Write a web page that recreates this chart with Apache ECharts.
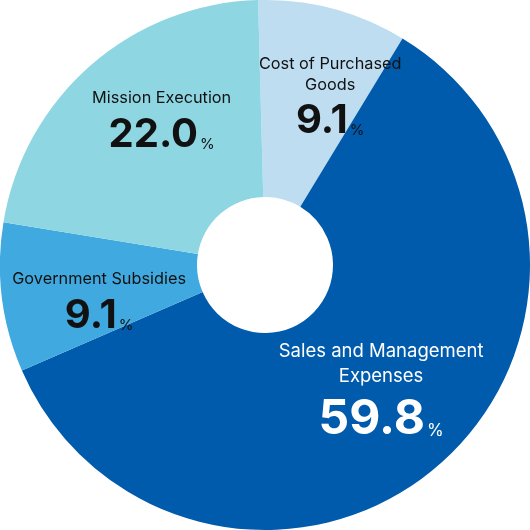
<!DOCTYPE html>
<html>
<head>
<meta charset="utf-8">
<script src="https://cdn.jsdelivr.net/npm/echarts@6/dist/echarts.min.js"></script>
<style>html,body{margin:0;padding:0;background:#fff}#c{width:530px;height:530px}</style>
</head>
<body>
<div id="c"></div>
<script>
const categories = ['Cost of Purchased\nGoods', 'Sales and Management\nExpenses', 'Government Subsidies', 'Mission Execution'];
const values = [9.1, 59.8, 9.1, 22.0];
const valueLabels = ['9.1', '59.8', '9.1', '22.0'];
const colors = ['#BEDDF1', '#005BAC', '#40A9E0', '#8ED6E2'];
// label block centres (fraction of chart size)
const labelCenters = [[0.623, 0.189], [0.719, 0.745], [0.187, 0.576], [0.305, 0.234]];

const chart = echarts.init(document.getElementById('c'), null, {renderer: 'canvas'});
const FONT = 'Inter, Roboto, sans-serif';

function richFor(dark) {
  const c = dark ? '#ffffff' : '#111111';
  return {
    n: {fontFamily: FONT, fontSize: dark ? 18.5 : 16.3, color: c, lineHeight: dark ? 24.5 : 21, align: 'center'},
    v: {fontFamily: FONT, fontSize: dark ? 48 : 40, fontWeight: 'bold', color: c, lineHeight: dark ? 62 : 52},
    p: {fontFamily: FONT, fontSize: dark ? 17 : 15, color: c, lineHeight: dark ? 62 : 52, verticalAlign: 'bottom', padding: [0, 0, dark ? 11 : 9, 2]}
  };
}

const data = categories.map((name, i) => {
  const dark = i === 1;
  const nameLines = name.split('\n').map(s => '{n|' + s + '}').join('\n');
  return {
    name: name,
    value: values[i],
    itemStyle: {color: colors[i]},
    label: {
      formatter: nameLines + '\n{v|' + valueLabels[i] + '}{p|%}',
      rich: richFor(dark)
    }
  };
});

chart.setOption({
  animation: false,
  backgroundColor: '#ffffff',
  series: [{
    type: 'pie',
    radius: [68, 265],
    center: ['50%', '50%'],
    startAngle: 91.5,
    clockwise: true,
    silent: true,
    label: {show: true, position: 'inside', align: 'center'},
    labelLine: {show: false},
    labelLayout: function (p) {
      const w = chart.getWidth(), h = chart.getHeight();
      const c = labelCenters[p.dataIndex];
      return {x: c[0] * w, y: c[1] * h};
    },
    itemStyle: {borderWidth: 0},
    data: data
  }]
});
</script>
</body>
</html>
